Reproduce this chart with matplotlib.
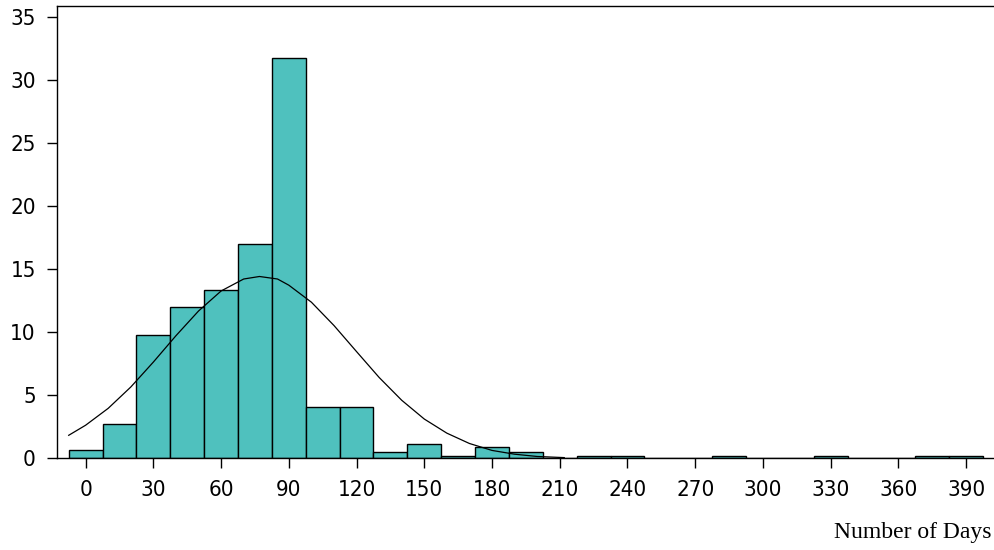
import numpy as np
import matplotlib.pyplot as plt

# Histogram: percent of cases per 15-day bin (bin midpoints)
bin_mid = [0, 15, 30, 45, 60, 75, 90, 105, 120, 135, 150, 165, 180, 195,
           210, 225, 240, 255, 270, 285, 300, 315, 330, 345, 360, 375, 390]
percent = [0.63, 2.7, 9.75, 12.0, 13.3, 17.0, 31.7, 4.07, 4.07, 0.48, 1.11, 0.18, 0.9, 0.48,
           0.0, 0.18, 0.18, 0.0, 0.0, 0.18, 0.0, 0.0, 0.18, 0.0, 0.0, 0.18, 0.18]

# Fitted curve
curve_x = [-7.5, 0, 10, 20, 30, 40, 50, 60, 70, 77, 85, 90, 100, 110, 120,
           130, 140, 150, 160, 170, 180, 190, 200, 212]
curve_y = [1.8, 2.6, 3.94, 5.63, 7.61, 9.7, 11.66, 13.25, 14.2, 14.4, 14.2, 13.71, 12.36, 10.51, 8.44,
           6.39, 4.58, 3.09, 1.97, 1.15, 0.6, 0.3, 0.12, 0.03]

x_ticks = list(range(0, 391, 30))
y_ticks = list(range(0, 36, 5))

fig = plt.figure(figsize=(9.94, 5.5), dpi=100)
ax = fig.add_axes([0.0573, 0.1673, 0.9417, 0.8227])

ax.bar(bin_mid, percent, width=15, color="#4FC1BE", edgecolor="black", linewidth=1.0)
ax.plot(curve_x, curve_y, color="black", linewidth=0.9)

ax.set_xlim(-12.7, 401.9)
ax.set_ylim(0, 35.9)
ax.set_xticks(x_ticks)
ax.set_yticks(y_ticks)

tick_font = {"family": ["Liberation Sans Narrow", "DejaVu Sans"], "size": 16,
             "stretch": "condensed"}
ax.set_xticklabels([str(t) for t in x_ticks], fontdict=tick_font)
ax.set_yticklabels([str(t) for t in y_ticks], fontdict=tick_font)
ax.tick_params(axis="both", direction="out", length=7.2, width=1.0, color="black")
ax.tick_params(axis="x", pad=9)
ax.tick_params(axis="y", pad=8)

ax.spines["right"].set_visible(False)
for s in ["left", "bottom", "top"]:
    ax.spines[s].set_linewidth(1.0)
    ax.spines[s].set_color("black")

fig.text(0.997, 0.013, "Number of Days", ha="right", va="bottom",
         family="Liberation Serif", fontsize=17)

fig.savefig("out.png", dpi=100)
